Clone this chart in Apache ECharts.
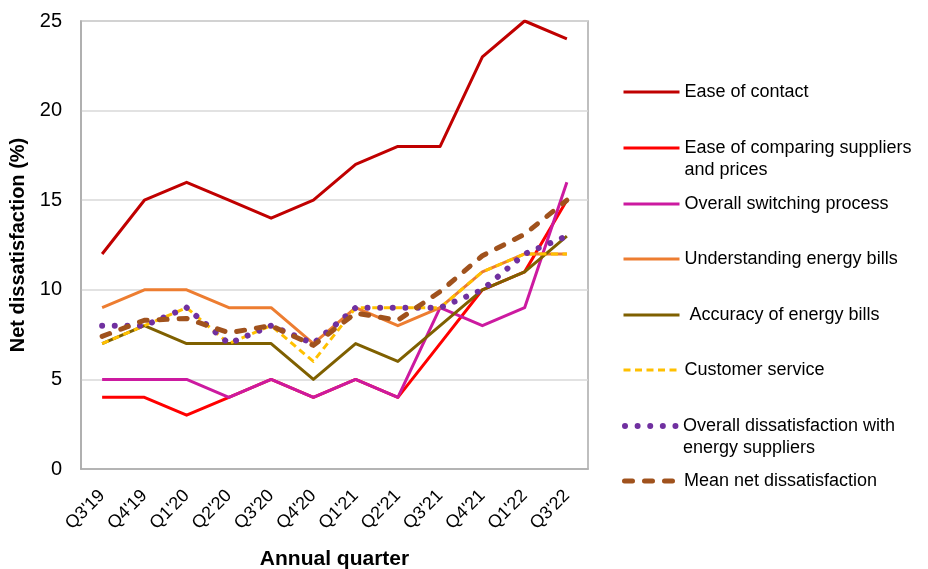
<!DOCTYPE html>
<html>
<head>
<meta charset="utf-8">
<script src="https://cdn.jsdelivr.net/npm/echarts@6/dist/echarts.min.js"></script>
<style>
  html, body { margin: 0; padding: 0; background: #fff; }
  #chart { width: 928px; height: 569px; }
</style>
</head>
<body>
<div id="chart"></div>
<script>
// Quarters on the x axis
const quarters = ["Q3'19", "Q4'19", "Q1'20", "Q2'20", "Q3'20", "Q4'20", "Q1'21", "Q2'21", "Q3'21", "Q4'21", "Q1'22", "Q3'22"];

// Net dissatisfaction (%) per measure
const easeOfContact      = [12, 15, 16, 15, 14, 15, 17, 18, 18, 23, 25, 24];
const easeOfComparing    = [4, 4, 3, 4, 5, 4, 5, 4, 7, 10, 11, 15];
const switchingProcess   = [5, 5, 5, 4, 5, 4, 5, 4, 9, 8, 9, 16];
const understandingBills = [9, 10, 10, 9, 9, 7, 9, 8, 9, 11, 12, 12];
const accuracyBills      = [7, 8, 7, 7, 7, 5, 7, 6, 8, 10, 11, 13];
const customerService    = [7, 8, 9, 7, 8, 6, 9, 9, 9, 11, 12, 12];
const overallSuppliers   = [8, 8, 9, 7, 8, 7, 9, 9, 9, 10, 12, 13];
const meanNet            = [7.4, 8.3, 8.4, 7.6, 8.0, 6.9, 8.7, 8.3, 9.9, 11.9, 13.1, 15.0];

const yTicks = [0, 5, 10, 15, 20, 25];

const FONT = 'Liberation Sans, Arial, sans-serif';
const LH = 22;

const seriesDefs = [
  { name: 'Ease of contact', lines: ['Ease of contact'], data: easeOfContact, color: '#C00000', width: 3, type: 'solid', cap: 'butt', iconY: 92, sample: 56 },
  { name: 'Ease of comparing suppliers and prices', lines: ['Ease of comparing suppliers', 'and prices'], data: easeOfComparing, color: '#FF0000', width: 3, type: 'solid', cap: 'butt', iconY: 148, sample: 56 },
  { name: 'Overall switching process', lines: ['Overall switching process'], data: switchingProcess, color: '#CC1AA0', width: 3, type: 'solid', cap: 'butt', iconY: 204, sample: 56 },
  { name: 'Understanding energy bills', lines: ['Understanding energy bills'], data: understandingBills, color: '#ED7D31', width: 3, type: 'solid', cap: 'butt', iconY: 259, sample: 56 },
  { name: ' Accuracy of energy bills', lines: [' Accuracy of energy bills'], data: accuracyBills, color: '#7F6000', width: 3, type: 'solid', cap: 'butt', iconY: 315, sample: 56 },
  { name: 'Customer service', lines: ['Customer service'], data: customerService, color: '#FFC000', width: 3, type: [7, 4.5], cap: 'butt', iconY: 370, sample: 56 },
  { name: 'Overall dissatisfaction with energy suppliers', lines: ['Overall dissatisfaction with', 'energy suppliers'], data: overallSuppliers, color: '#7030A0', width: 6, type: [0.01, 12.6], cap: 'round', iconY: 426, sample: 53 },
  { name: 'Mean net dissatisfaction', lines: ['Mean net dissatisfaction'], data: meanNet, color: '#A0521D', width: 5, type: [8, 12], cap: 'round', iconY: 481, sample: 54.5 }
];

// One legend block per entry so every line sample sits level with the
// first line of its caption; a blank leading line keeps two-line captions
// centred on their first line.
const legends = seriesDefs.map(d => {
  const twoLine = d.lines.length > 1;
  const text = twoLine ? ' \n' + d.lines.join('\n') : d.lines[0];
  const boxH = twoLine ? LH * 3 : LH;
  return {
    show: true,
    data: [d.name],
    left: 622,
    top: d.iconY - boxH / 2,
    padding: 0,
    itemWidth: d.sample,
    itemHeight: 14,
    itemGap: 0,
    selectedMode: false,
    itemStyle: { opacity: 0 },
    lineStyle: { width: d.width, type: d.type, cap: d.cap, color: d.color },
    formatter: () => text,
    textStyle: {
      fontFamily: FONT,
      fontSize: 18,
      color: '#000',
      lineHeight: LH
    }
  };
});

const chart = echarts.init(document.getElementById('chart'), null, { renderer: 'canvas' });
chart.setOption({
  animation: false,
  backgroundColor: '#fff',
  grid: {
    left: 81, top: 21, right: 340, bottom: 100,
    outerBoundsMode: 'none',
    show: true, borderColor: '#ababab', borderWidth: 1.5,
    containLabel: false
  },
  legend: legends,
  xAxis: {
    type: 'category',
    data: quarters,
    boundaryGap: true,
    name: 'Annual quarter',
    nameLocation: 'middle',
    nameGap: 80,
    nameTextStyle: { fontFamily: FONT, fontSize: 21, fontWeight: 'bold', color: '#000' },
    axisLine: { show: true, lineStyle: { color: '#ababab', width: 1.5 } },
    axisTick: { show: false },
    axisLabel: { rotate: 45, margin: 24, fontFamily: FONT, fontSize: 18, color: '#000', interval: 0 }
  },
  yAxis: {
    type: 'value',
    min: yTicks[0],
    max: yTicks[yTicks.length - 1],
    interval: 5,
    name: 'Net dissatisfaction (%)',
    nameLocation: 'middle',
    nameRotate: 90,
    nameGap: 42,
    nameTextStyle: { fontFamily: FONT, fontSize: 20, fontWeight: 'bold', color: '#000' },
    axisLine: { show: true, lineStyle: { color: '#ababab', width: 1.5 } },
    axisTick: { show: false },
    axisLabel: { margin: 19, fontFamily: FONT, fontSize: 20, color: '#000' },
    splitLine: { show: true, lineStyle: { color: '#d9d9d9', width: 1.5 } }
  },
  series: seriesDefs.map(d => ({
    name: d.name,
    type: 'line',
    data: d.data,
    symbol: 'none',
    showSymbol: false,
    smooth: false,
    color: d.color,
    lineStyle: { color: d.color, width: d.width, type: d.type, cap: d.cap, join: 'round' },
    emphasis: { disabled: true }
  }))
});
</script>
</body>
</html>
